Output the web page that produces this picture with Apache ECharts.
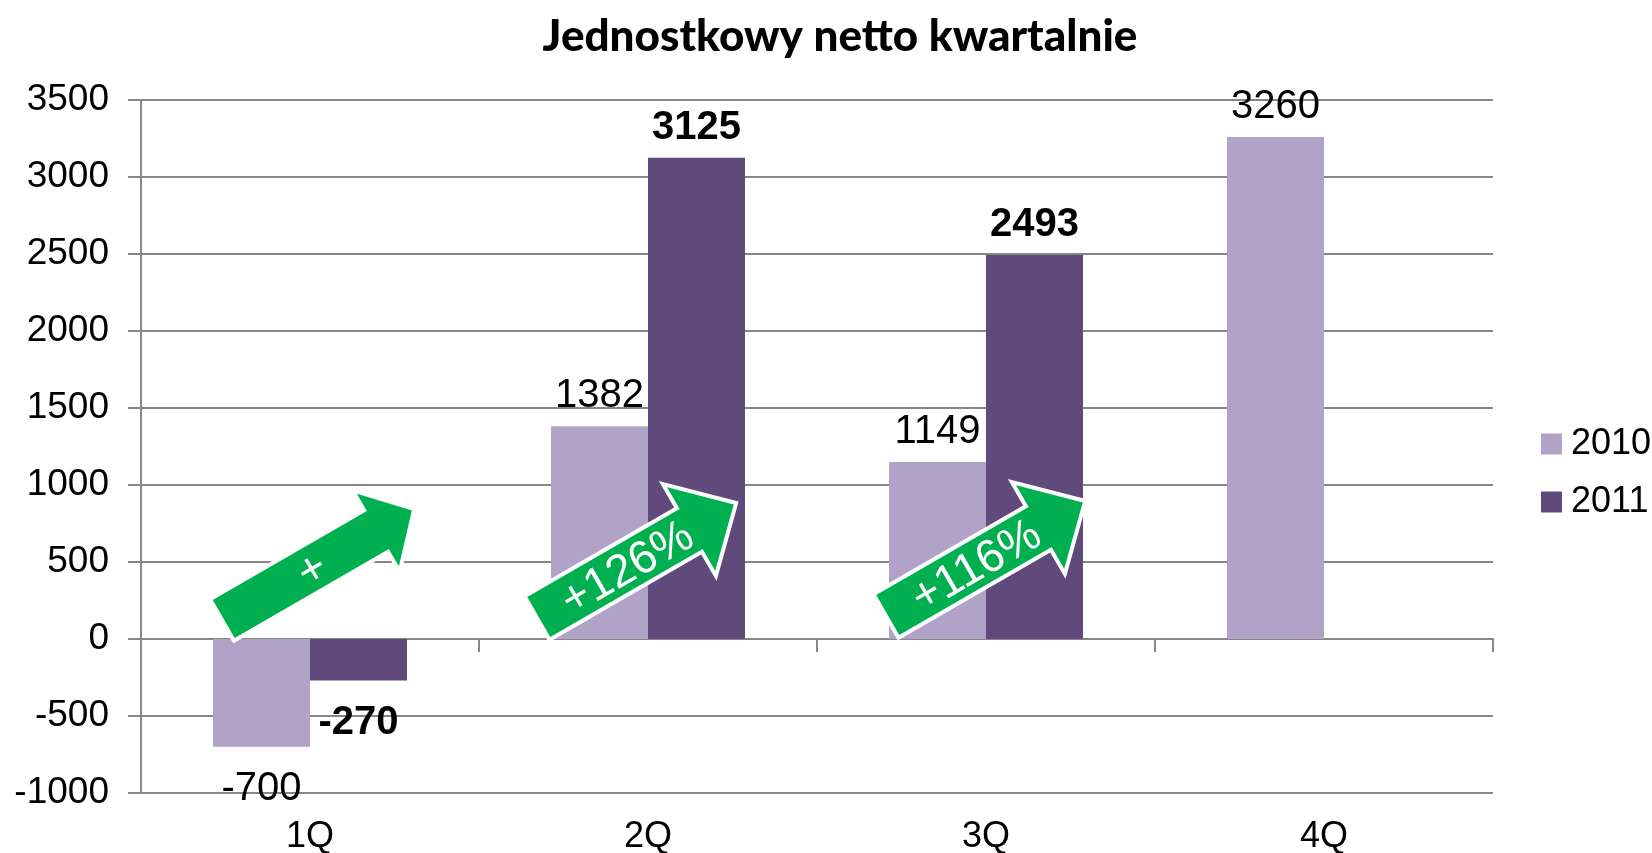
<!DOCTYPE html>
<html>
<head>
<meta charset="utf-8">
<title>Jednostkowy netto kwartalnie</title>
<script src="https://cdn.jsdelivr.net/npm/echarts@6/dist/echarts.min.js"></script>
<style>
  html, body { margin: 0; padding: 0; background: #fff; }
  #chart { width: 1652px; height: 853px; }
</style>
</head>
<body>
<div id="chart"></div>
<script>
let categories = ['1Q', '2Q', '3Q', '4Q'];
let values2010 = [-700, 1382, 1149, 3260];
let values2011 = [-270, 3125, 2493, null];
let arrowTexts = ['+', '+126%', '+116%'];

let font = '"Liberation Sans", Arial, sans-serif';
let gridColor = '#868686';

// negative bars get their label underneath
function withLabels(values, bold) {
  return values.map(function (v) {
    if (v === null) return '-';
    return {
      value: v,
      label: {
        position: v < 0 ? 'bottom' : 'top',
        distance: v < 0 ? 22 : 10,
        fontWeight: bold ? 'bold' : 'normal'
      }
    };
  });
}

let option = {
  animation: false,
  title: {
    text: 'Jednostkowy netto kwartalnie',
    left: 835,
    textAlign: 'center',
    top: 10,
    textStyle: { fontFamily: 'Lato, "Noto Sans", sans-serif', fontWeight: 900, fontSize: 44, color: '#000' }
  },
  legend: {
    orient: 'vertical',
    left: 1536,
    top: 421,
    icon: 'rect',
    itemWidth: 21,
    itemHeight: 21,
    itemGap: 22,
    textStyle: { fontFamily: font, fontSize: 36, color: '#000', padding: [0, 0, 0, 4] },
    data: ['2010', '2011']
  },
  grid: { left: 141, right: 159, top: 100, bottom: 60, outerBoundsMode: 'none', containLabel: false },
  xAxis: [
    {
      type: 'category',
      data: categories,
      axisLine: { onZero: true, lineStyle: { color: gridColor, width: 2 } },
      axisTick: { show: true, length: 13, lineStyle: { color: gridColor, width: 2 } },
      axisLabel: { show: false }
    },
    {
      type: 'category',
      data: categories,
      position: 'bottom',
      axisLine: { show: false, onZero: false },
      axisTick: { show: false },
      axisLabel: { fontFamily: font, fontSize: 36, color: '#000', margin: 26 }
    }
  ],
  yAxis: {
    type: 'value',
    min: -1000,
    max: 3500,
    interval: 500,
    axisLine: { show: true, lineStyle: { color: gridColor, width: 2 } },
    axisTick: { show: true, length: 13, lineStyle: { color: gridColor, width: 2 } },
    splitLine: { lineStyle: { color: gridColor, width: 2 } },
    axisLabel: {
      fontFamily: font, fontSize: 37, color: '#000', margin: 32,
      formatter: function (v) { return String(v); }
    }
  },
  series: [
    {
      name: '2010',
      type: 'bar',
      barWidth: 97,
      barGap: '0%',
      itemStyle: { color: '#B1A2C8' },
      label: { show: true, fontFamily: font, fontSize: 40, color: '#000' },
      data: withLabels(values2010, false)
    },
    {
      name: '2011',
      type: 'bar',
      barWidth: 97,
      barGap: '0%',
      itemStyle: { color: '#604A7B' },
      label: { show: true, fontFamily: font, fontSize: 40, color: '#000' },
      data: withLabels(values2011, true)
    }
  ]
};

let chart = echarts.init(document.getElementById('chart'));
chart.setOption(option);

// green growth arrows, anchored to the category centre on the zero line
function arrowShape(shaftHalf, shaftLen, headHalf, total) {
  return [
    [0, -shaftHalf], [shaftLen, -shaftHalf], [shaftLen, -headHalf], [total, 0],
    [shaftLen, headHalf], [shaftLen, shaftHalf], [0, shaftHalf]
  ];
}

let arrowOffsets = [[-88, -19], [-111, -21], [-100, -23]];
let arrows = arrowTexts.map(function (txt, i) {
  let base = chart.convertToPixel({ xAxisIndex: 0, yAxisIndex: 0 }, [categories[i], 0]);
  let big = i > 0;
  return {
    type: 'group',
    x: base[0] + arrowOffsets[i][0],
    y: base[1] + arrowOffsets[i][1],
    rotation: 30 * Math.PI / 180,
    z: 100,
    children: [
      {
        type: 'polygon',
        z: 100,
        shape: { points: big ? arrowShape(25, 176, 53, 230) : arrowShape(24, 178, 47, 222) },
        style: { fill: '#00B050', stroke: '#fff', lineWidth: 4 }
      },
      {
        type: 'text',
        z: 101,
        x: 103,
        y: 3,
        style: {
          text: txt,
          fill: '#fff',
          fontSize: 46,
          fontFamily: font,
          align: 'center',
          verticalAlign: 'middle'
        }
      }
    ]
  };
});

chart.setOption({ graphic: arrows });
</script>
</body>
</html>
